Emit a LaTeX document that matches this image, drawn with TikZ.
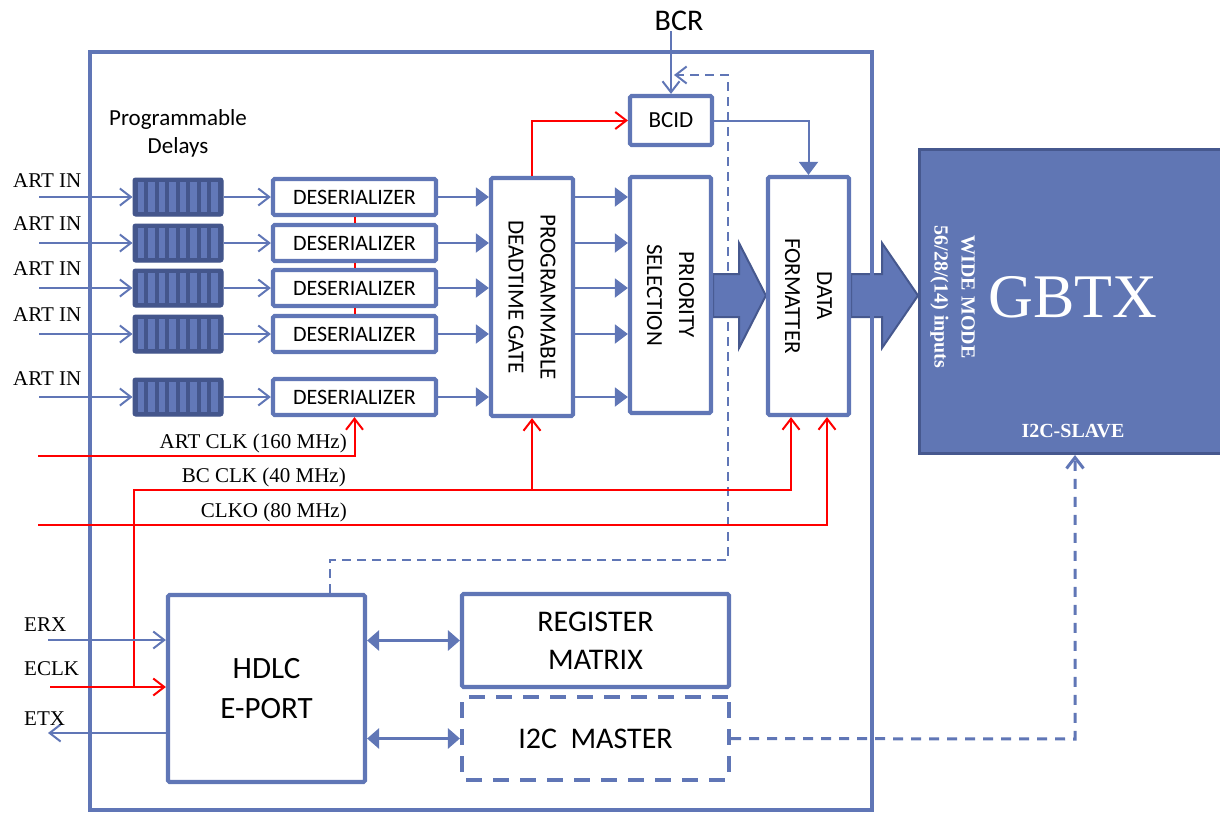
\documentclass[tikz,border=0pt]{standalone}
\usepackage{fontspec}
\setmainfont{Liberation Serif}
\newfontfamily\carl{Carlito}
\usetikzlibrary{arrows.meta,calc}
\definecolor{bl}{RGB}{96,118,182}
\definecolor{bldark}{RGB}{68,86,140}
\definecolor{blstripe}{RGB}{98,120,184}
\definecolor{gbfill}{RGB}{96,118,180}
\definecolor{gbedge}{RGB}{70,88,142}
\pgfdeclarelayer{back}
\pgfsetlayers{back,main}

\tikzset{
  blk/.style={draw=bl, line width=4.2pt, fill=white, inner sep=0pt, rounded corners=1.5pt},
  delayblk/.style={fill=bldark, draw=bldark, line width=1pt, rounded corners=2.5pt,
    minimum width=90pt, minimum height=38pt, inner sep=0pt},
  wire/.style={draw=bl, line width=2pt},
  clk/.style={draw=red, line width=2pt},
  openhead/.style={-{Straight Barb[length=11pt,width=17pt]}},
  solidhead/.style={-{Triangle[length=13pt,width=19pt]}},
  twohead/.style={{Triangle[length=12pt,width=20pt]}-{Triangle[length=12pt,width=20pt]}},
  bigarrow/.style={fill=bl, draw=gbedge, line width=2pt, line join=miter},
  lbl/.style={inner sep=0pt, font=\fontsize{21}{25}\selectfont},
  sf22/.style={font=\carl\fontsize{22}{28}\selectfont},
  sf23/.style={font=\carl\fontsize{23}{32}\selectfont},
  sf30/.style={font=\carl\fontsize{30}{38}\selectfont},
  fbdash/.style={dash pattern=on 9pt off 6pt},
}

\begin{document}
\begin{tikzpicture}[x=1pt,y=-1pt]
\useasboundingbox (0,0) rectangle (1220,812);
\clip (0,0) rectangle (1220,812);

% chip outline
\node[draw=bl, line width=4.5pt, minimum width=782pt, minimum height=758pt, inner sep=0pt] (chip) at (481,431) {};

% GBTX
\node[fill=gbfill, draw=gbedge, line width=3pt, minimum width=330pt, minimum height=304pt,
  inner sep=0pt, anchor=north west] (gbtx) at (918,148) {};
\node[text=white, inner sep=0pt, font=\fontsize{62}{70}\selectfont] at (1073,297) {GBTX};
\node[text=white, rotate=-90, align=center, inner sep=0pt,
  font=\bfseries\fontsize{20}{27}\selectfont] at (952.5,297) {WIDE MODE\\56/28/(14) inputs};
\node[text=white, inner sep=0pt, font=\bfseries\fontsize{20}{24}\selectfont] at (1073,431) {I2C-SLAVE};

% programmable delays and deserializers
\node[align=center, inner sep=0pt, font=\carl\fontsize{23}{28}\selectfont] at (178,133) {Programmable\\Delays};
\foreach \i/\y/\b in {1/197/187,2/243/230,3/288/275,4/334/321,5/397/385}{
  \node[delayblk] (dl\i) at (178,\y) {};
  \foreach \k in {0,...,7}
    \fill[blstripe] ($(dl\i.west)+(5.3+10.5*\k,-15)$) rectangle ++(6.3,30);
  \node[blk, sf22, minimum width=163pt, minimum height=36pt] (ds\i) at (354.5,\y) {DESERIALIZER};
  \coordinate (in\i) at (39,\y);
  \node[lbl, anchor=base west] at (13,\b) {ART IN};
  \draw[wire, openhead] (in\i) -- (dl\i.west);
  \draw[wire, openhead] (dl\i.east) -- (ds\i.west);
}

% processing chain
\node[blk, minimum width=82pt, minimum height=238pt] (pdg) at (532,297) {};
\node[sf23, rotate=-90, align=center, inner sep=0pt] at (pdg) {PROGRAMMABLE\\DEADTIME GATE};
\node[blk, minimum width=81pt, minimum height=236pt] (ps) at (670.5,295) {};
\node[sf23, rotate=-90, align=center, inner sep=0pt] at (ps) {PRIORITY\\SELECTION};
\node[blk, minimum width=81pt, minimum height=238pt] (df) at (808.5,296) {};
\node[sf23, rotate=-90, align=center, inner sep=0pt] at (df) {DATA\\FORMATTER};
\node[blk, sf23, minimum width=82pt, minimum height=49pt] (bcid) at (671,120.5) {BCID};
\node[inner sep=0pt, font=\carl\fontsize{30}{36}\selectfont] (bcr) at (679,21) {BCR};

% wide data paths
\begin{pgfonlayer}{back}
\filldraw[bigarrow] (ps.east |- 0,274) -- (739,274) -- (739,243) -- (df.west |- 0,295.5)
  -- (739,348) -- (739,317) -- (ps.east |- 0,317) -- cycle;
\filldraw[bigarrow] (df.east |- 0,274) -- (882,274) -- (882,243) -- (gbtx.west |- 0,295.5)
  -- (882,348) -- (882,317) -- (df.east |- 0,317) -- cycle;
\end{pgfonlayer}

\foreach \i in {1,...,5}{
  \draw[wire, solidhead] (ds\i.east) -- (ds\i.east -| pdg.west);
  \draw[wire, solidhead] (ds\i.east -| pdg.east) -- (ds\i.east -| ps.west);
}

% control block
\node[blk, align=center, minimum width=197pt, minimum height=187pt,
  font=\carl\fontsize{31}{40}\selectfont] (hdlc) at (266.5,688.5) {HDLC\\E-PORT};
\node[blk, sf30, align=center, minimum width=267pt, minimum height=93pt] (reg) at (595.5,640.5) {REGISTER\\MATRIX};
\node[blk, sf30, dash pattern=on 16pt off 11pt, minimum width=267pt, minimum height=83pt] (i2c) at (595.5,738.5) {I2C\ \ MASTER};
\draw[wire, line width=3.5pt, twohead] (hdlc.east |- reg) -- (reg.west);
\draw[wire, line width=3.5pt, twohead] (hdlc.east |- i2c) -- (i2c.west);

% BCR and bunch-crossing ID
\draw[wire, openhead] (bcr.south -| bcid.north) -- (bcid.north);
\draw[wire, solidhead] (bcid.east) -- (bcid.east -| df.north) -- (df.north);
\draw[clk, openhead] (pdg.north) -- (pdg.north |- bcid.west) -- (bcid.west);
\coordinate (fbtip) at (674,75);
\draw[wire, fbdash, openhead] (hdlc.north -| 330,0) -- (330,560) -- (728,560) -- (728,75) -- (fbtip);

% clocks
\draw[clk] (ds1.south) -- (ds2.north);
\draw[clk] (ds2.south) -- (ds3.north);
\draw[clk] (ds3.south) -- (ds4.north);
\coordinate (artclk) at (38,456);
\draw[clk, openhead] (artclk) -- (artclk -| ds5.south) -- (ds5.south);
\coordinate (eclk) at (50,687);
\coordinate (bcj) at (134,687);
\coordinate (dfa) at ($(df.south)+(-17.5,0)$);
\coordinate (dfb) at ($(df.south)+(18.5,0)$);
\draw[clk, openhead] (eclk) -- (eclk -| hdlc.west);
\draw[clk, openhead] (bcj) -- (bcj |- 0,490) -- (dfa |- 0,490) -- (dfa);
\draw[clk, openhead] (pdg.south |- 0,490) -- (pdg.south);
\coordinate (clko) at (38,525);
\draw[clk, openhead] (clko) -- (clko -| dfb) -- (dfb);
\node[lbl, anchor=base east] at (347,448) {ART CLK (160 MHz)};
\node[lbl, anchor=base east] at (346,482) {BC CLK (40 MHz)};
\node[lbl, anchor=base east] at (347,517) {CLKO (80 MHz)};

% E-link
\coordinate (erx) at (48,640);
\coordinate (etx) at (48,733);
\draw[wire, openhead] (erx) -- (erx -| hdlc.west);
\draw[wire, openhead] (etx -| hdlc.west) -- (etx);
\node[lbl, anchor=base west] at (24,631) {ERX};
\node[lbl, anchor=base west] at (24,675) {ECLK};
\node[lbl, anchor=base west] at (24,725) {ETX};

% I2C link to GBTX
\coordinate (sl) at (1075,739);
\draw[wire, line width=3pt, dash pattern=on 10pt off 8pt, openhead] (i2c.east) -- (sl) -- (gbtx.south -| sl);
\end{tikzpicture}
\end{document}
